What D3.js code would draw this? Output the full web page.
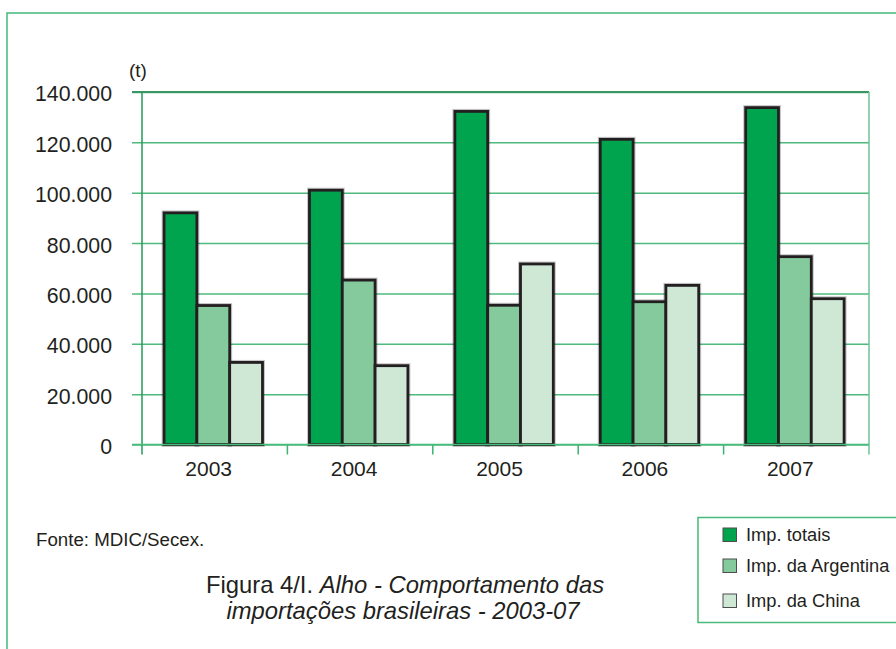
<!DOCTYPE html>
<html>
<head>
<meta charset="utf-8">
<script src="https://cdn.jsdelivr.net/npm/d3@7"></script>
<style>
  html, body { margin: 0; padding: 0; background: #ffffff; }
  svg { display: block; font-family: "Liberation Sans", Arial, Helvetica, sans-serif; }
</style>
</head>
<body>
<svg id="chart" width="896" height="649"></svg>
<script>
// Garlic imports into Brazil, tonnes per year
const years = ["2003", "2004", "2005", "2006", "2007"];
const impTotais = [92000, 101000, 132300, 121200, 133800];
const impArgentina = [55200, 65300, 55300, 56700, 74600];
const impChina = [32600, 31300, 71700, 63200, 57900];
const yTicks = [0, 20000, 40000, 60000, 80000, 100000, 120000, 140000];
const seriesNames = ["Imp. totais", "Imp. da Argentina", "Imp. da China"];
const seriesValues = [impTotais, impArgentina, impChina];
const seriesColors = ["#00a44f", "#84ca9c", "#cfe8d6"];

const svg = d3.select("#chart");
const ink = "#231f20";

// outer frame
svg.append("rect")
  .attr("x", 7).attr("y", 13).attr("width", 920).attr("height", 700)
  .attr("fill", "none").attr("stroke", "#46bb7a").attr("stroke-width", 1.5);

const plot = { left: 142, right: 869, top: 92, bottom: 444.5 };

const x = d3.scaleBand().domain(years).range([plot.left, plot.right]).padding(0);
const x1 = d3.scaleBand().domain(seriesNames).range([0, x.bandwidth()])
  .paddingInner(0).paddingOuter(0.716).align(0.47);
const y = d3.scaleLinear().domain([0, 140000]).range([plot.bottom, plot.top]);

const fmt = d3.formatLocale({ decimal: ",", thousands: ".", grouping: [3], currency: ["", ""] }).format(",d");

// y axis with gridlines
const yAxis = svg.append("g")
  .attr("transform", `translate(${plot.left},0)`)
  .call(d3.axisLeft(y).tickValues(yTicks).tickFormat(fmt)
    .tickSizeInner(-(plot.right - plot.left)).tickSizeOuter(0).tickPadding(30));
yAxis.select(".domain").remove();
yAxis.selectAll(".tick line")
  .attr("x1", -10)
  .attr("stroke", "#4fba7e").attr("stroke-width", 1.5);
yAxis.selectAll(".tick text")
  .attr("fill", ink).attr("font-size", 21.3).attr("dy", "0.42em");

// frame of the plot area
svg.append("line")
  .attr("x1", plot.left - 10).attr("x2", plot.right)
  .attr("y1", y(140000)).attr("y2", y(140000))
  .attr("stroke", "#3a9464").attr("stroke-width", 2);
svg.append("line")
  .attr("x1", plot.left).attr("x2", plot.left)
  .attr("y1", plot.top).attr("y2", plot.bottom + 10)
  .attr("stroke", "#1f9c56").attr("stroke-width", 1.5);
svg.append("line")
  .attr("x1", plot.right).attr("x2", plot.right)
  .attr("y1", plot.top).attr("y2", plot.bottom + 10)
  .attr("stroke", "#6cc596").attr("stroke-width", 1.5);

// category separators below the baseline
const bounds = years.slice(1).map(d => x(d));
svg.append("g").selectAll("line").data(bounds).join("line")
  .attr("x1", d => d).attr("x2", d => d)
  .attr("y1", plot.bottom).attr("y2", plot.bottom + 10)
  .attr("stroke", "#3cb371").attr("stroke-width", 1.5);

// unit label
svg.append("text")
  .attr("x", 129).attr("y", 77)
  .attr("font-size", 19).attr("fill", ink)
  .text("(t)");

// bars
const bars = [];
years.forEach((yr, i) => {
  seriesNames.forEach((s, j) => {
    bars.push({ year: yr, series: s, value: seriesValues[j][i], color: seriesColors[j] });
  });
});

const barG = svg.append("g");
// soft grey halo
barG.selectAll("rect.halo").data(bars).join("rect")
  .attr("class", "halo")
  .attr("x", d => x(d.year) + x1(d.series))
  .attr("y", d => y(d.value))
  .attr("width", x1.bandwidth())
  .attr("height", d => y(0) - y(d.value))
  .attr("fill", "none")
  .attr("stroke", "rgba(0,0,0,0.22)").attr("stroke-width", 5);
barG.selectAll("rect.bar").data(bars).join("rect")
  .attr("class", "bar")
  .attr("x", d => x(d.year) + x1(d.series))
  .attr("y", d => y(d.value))
  .attr("width", x1.bandwidth())
  .attr("height", d => y(0) - y(d.value))
  .attr("fill", d => d.color)
  .attr("stroke", ink).attr("stroke-width", 2.8);

// baseline
svg.append("line")
  .attr("x1", plot.left - 10).attr("x2", plot.right)
  .attr("y1", y(0)).attr("y2", y(0))
  .attr("stroke", "#46bb7a").attr("stroke-width", 1.5);

// year labels
svg.append("g").selectAll("text").data(years).join("text")
  .attr("x", d => x(d) + x.bandwidth() / 2 - 6)
  .attr("y", 476)
  .attr("text-anchor", "middle")
  .attr("font-size", 21).attr("fill", ink)
  .text(d => d);

// source note
svg.append("text")
  .attr("x", 36).attr("y", 546)
  .attr("font-size", 18.7).attr("fill", ink)
  .text("Fonte: MDIC/Secex.");

// figure caption
const cap = svg.append("text")
  .attr("text-anchor", "middle").attr("font-size", 23.8)
  .attr("fill", ink);
const l1 = cap.append("tspan").attr("x", 405).attr("y", 593);
l1.append("tspan").text("Figura 4/I. ");
l1.append("tspan").attr("font-style", "italic").text("Alho - Comportamento das");
cap.append("tspan").attr("x", 403).attr("y", 619)
  .attr("font-style", "italic").text("importações brasileiras - 2003-07");

// legend
svg.append("rect")
  .attr("x", 698).attr("y", 517.5).attr("width", 220).attr("height", 105)
  .attr("fill", "#ffffff").attr("stroke", "#46bb7a").attr("stroke-width", 1.5);
const legendY = [541, 572, 607];
const lg = svg.append("g").selectAll("g").data(seriesNames).join("g")
  .attr("transform", (d, i) => `translate(723,${legendY[i]})`);
lg.append("rect")
  .attr("x", 0).attr("y", -13).attr("width", 13.5).attr("height", 13.5)
  .attr("fill", (d, i) => seriesColors[i])
  .attr("stroke", "#4d4d4d").attr("stroke-width", 1);
lg.append("text")
  .attr("x", 23).attr("y", 0)
  .attr("font-size", 18.3).attr("fill", ink)
  .text(d => d);
</script>
</body>
</html>
